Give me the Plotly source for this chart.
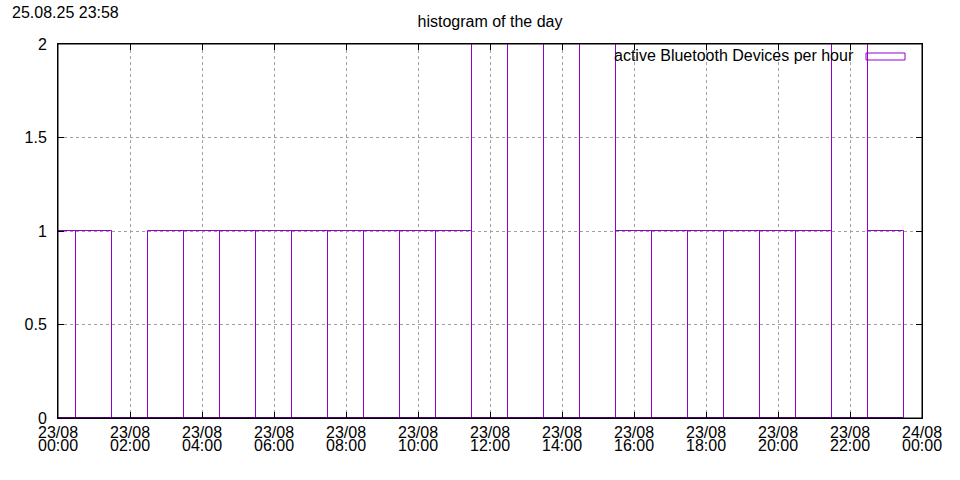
import plotly.graph_objects as go
from datetime import datetime, timedelta

# ---- data ----
day_start = "2025-08-23 00:00"
hours = list(range(24))
counts = [1, 1, 0, 1, 1, 1, 1, 1, 1, 1, 1, 1, 2, 2, 2, 2, 1, 1, 1, 1, 1, 1, 2, 1]
tick_hours = [0, 2, 4, 6, 8, 10, 12, 14, 16, 18, 20, 22, 24]
tick_dates = ["23/08"] * 12 + ["24/08"]
tick_times = ["00:00", "02:00", "04:00", "06:00", "08:00", "10:00", "12:00",
              "14:00", "16:00", "18:00", "20:00", "22:00", "00:00"]
y_ticks = [0, 0.5, 1, 1.5, 2]
y_labels = ["0", "0.5", "1", "1.5", "2"]
series_name = "active Bluetooth Devices per hour"
title_text = "histogram of the day"
stamp_text = "25.08.25 23:58"

t0 = datetime.strptime(day_start, "%Y-%m-%d %H:%M")
xs = [t0 + timedelta(hours=h) for h in hours]
tick_vals = [t0 + timedelta(hours=h) for h in tick_hours]

PURPLE = "#9400d3"
FONT = "Liberation Sans, Arial, sans-serif"
GRID = "#a0a0a0"

fig = go.Figure()
fig.add_trace(go.Bar(
    x=xs, y=counts, width=3600000, name=series_name,
    marker=dict(color="rgba(148,0,211,0)", line=dict(color=PURPLE, width=1)),
    showlegend=False,
))
# invisible trace to drive the second label row (times)
fig.add_trace(go.Scatter(x=tick_vals, y=[0] * len(tick_vals), xaxis="x2",
                         mode="markers", marker=dict(opacity=0), showlegend=False,
                         hoverinfo="skip"))

fig.update_layout(
    width=960, height=480,
    margin=dict(l=58, r=38, t=44, b=62),
    paper_bgcolor="white", plot_bgcolor="white",
    font=dict(family=FONT, size=16, color="black"),
    showlegend=False,
    title=dict(text=title_text, x=0.5, xref="paper", y=1 - 21 / 480,
               yref="container", yanchor="middle", xanchor="center",
               font=dict(size=16)),
    xaxis=dict(
        type="date", range=[tick_vals[0], tick_vals[-1]],
        tickmode="array", tickvals=tick_vals, ticktext=tick_dates,
        ticks="inside", ticklen=6, tickcolor="black",
        showline=True, linecolor="black", linewidth=1, mirror="ticks",
        showgrid=True, gridcolor=GRID, griddash="dot", gridwidth=1,
        zeroline=False, ticklabelstandoff=0,
    ),
    xaxis2=dict(
        type="date", range=[tick_vals[0], tick_vals[-1]], overlaying="x",
        side="bottom", anchor="y",
        tickmode="array", tickvals=tick_vals, ticktext=tick_times,
        ticks="", showline=False, showgrid=False, zeroline=False,
        ticklabelstandoff=16,
    ),
    yaxis=dict(
        range=[0, 2], tickmode="array", tickvals=y_ticks, ticktext=y_labels,
        ticks="inside", ticklen=6, tickcolor="black",
        showline=True, linecolor="black", linewidth=1, mirror="ticks",
        showgrid=True, gridcolor=GRID, griddash="dot", gridwidth=1,
        zeroline=False, ticklabelstandoff=7,
    ),
    bargap=0,
)

# mask grid behind key area (like gnuplot key)
fig.add_shape(type="rect", xref="paper", yref="paper", x0=0.555, x1=1.0,
              y0=0.941, y1=1.0, fillcolor="white", line=dict(width=0),
              layer="between")

# black plot border drawn above the boxes
fig.add_shape(type="rect", xref="paper", yref="paper", x0=0, x1=1, y0=0, y1=1,
              line=dict(color="black", width=1), fillcolor="rgba(0,0,0,0)",
              layer="above")

# key
fig.add_annotation(text=series_name, xref="paper", yref="paper",
                   x=(856 - 58) / 864, y=(418 - 55) / 374, xanchor="right",
                   yanchor="middle", showarrow=False, font=dict(size=16))
fig.add_shape(type="rect", xref="paper", yref="paper",
              x0=(866 - 58) / 864, x1=(905 - 58) / 864,
              y0=(418 - 60) / 374, y1=(418 - 53) / 374,
              line=dict(color=PURPLE, width=1), fillcolor="rgba(0,0,0,0)")

# timestamp
fig.add_annotation(text=stamp_text, xref="paper", yref="paper",
                   x=(10 - 58) / 864, y=(418 - 12) / 374, xanchor="left",
                   yanchor="middle", showarrow=False, font=dict(size=16))

fig.write_html("out.html", config={"displayModeBar": False},
               post_script="document.body.style.margin='0';document.body.style.padding='0';")
